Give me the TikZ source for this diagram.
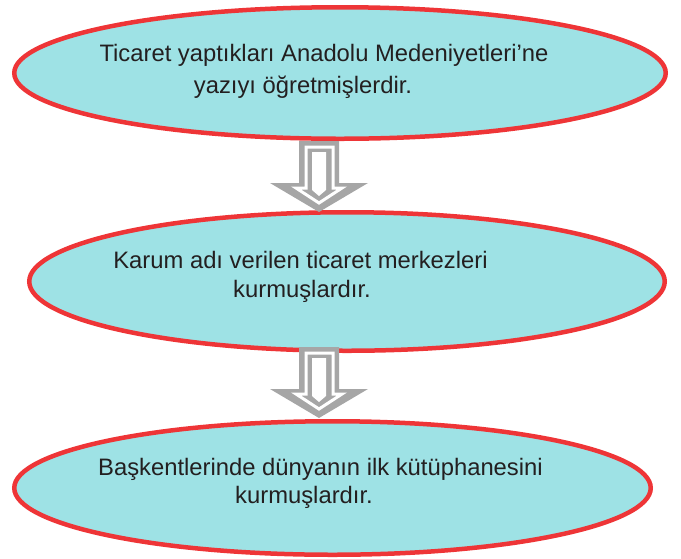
\documentclass[tikz,border=0pt]{standalone}
\usepackage{fontspec}
\setmainfont{Liberation Sans}
\usetikzlibrary{shapes.geometric}
\definecolor{ovalred}{HTML}{EE3537}
\definecolor{ovalfill}{HTML}{9EE2E5}
\definecolor{arrgray}{HTML}{A6A6A6}
\definecolor{txtgray}{HTML}{231F20}
\begin{document}
\begin{tikzpicture}[x=1pt,y=1pt,
        oval/.style={ellipse,draw=ovalred,fill=ovalfill,line width=4.5pt,
          inner sep=0pt},
        line/.style={anchor=base,inner sep=0pt,text=txtgray,
          font=\fontsize{23.8}{30}\selectfont},
        fatarrow/.pic={
          \fill[arrgray] (-20,0) -- (20,0) -- (20,-42) -- (49,-42) -- (0,-71)
            -- (-49,-42) -- (-20,-42) -- cycle;
          \draw[white,line width=3pt] (-13,-6) -- (14,-6) -- (14,-47) -- (23,-47)
            -- (0,-62) -- (-23,-47) -- (-13,-47) -- cycle;
          \fill[white] (-7,-11) -- (7,-11) -- (7,-49) -- (0,-55) -- (-7,-49) -- cycle;
        }]
      \useasboundingbox (0,0) rectangle (681,-558);
      \node (e1) at (340,-73) [oval,minimum width=651.5pt,minimum height=131.5pt] {};
      \node (e2) at (347,-281.5) [oval,minimum width=635.5pt,minimum height=138.5pt] {};
      \node (e3) at (332.5,-488) [oval,minimum width=636.5pt,minimum height=133.5pt] {};
      \node (l1a) at (324,-61) [line] {Ticaret yaptıkları Anadolu Medeniyetleri’ne};
      \node (l1b) at (303,-93) [line] {yazıyı öğretmişlerdir.};
      \node (l2a) at (300.5,-268) [line] {Karum adı verilen ticaret merkezleri};
      \node (l2b) at (302,-297) [line] {kurmuşlardır.};
      \node (l3a) at (320.5,-475) [line] {Başkentlerinde dünyanın ilk kütüphanesini};
      \node (l3b) at (304,-503) [line] {kurmuşlardır.};
      \pic at (319,-141) {fatarrow};
      \pic at (319,-347) {fatarrow};
\end{tikzpicture}
\end{document}
